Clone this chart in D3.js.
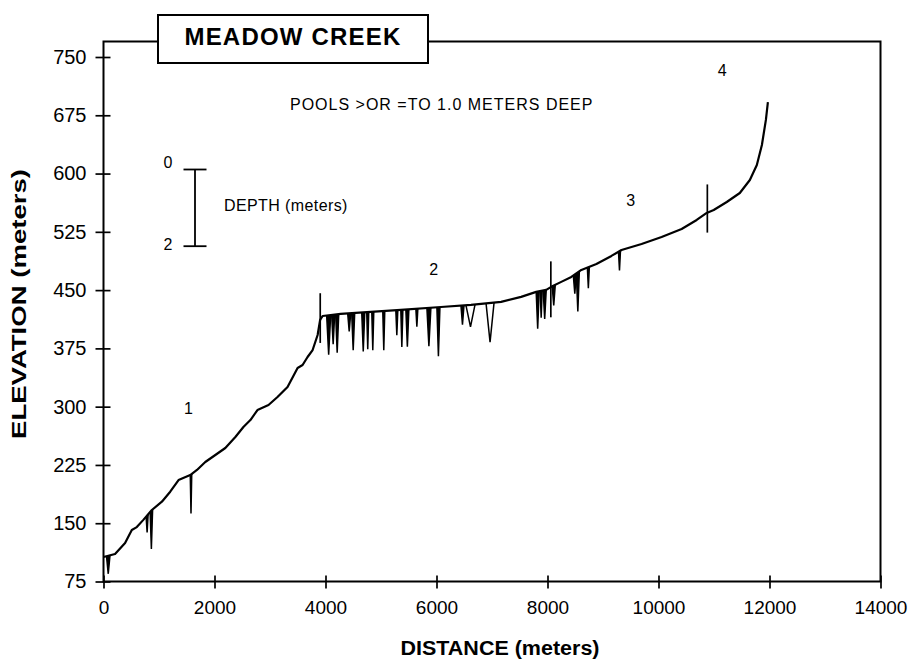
<!DOCTYPE html>
<html>
<head>
<meta charset="utf-8">
<script src="https://cdn.jsdelivr.net/npm/d3@7/dist/d3.min.js"></script>
<style>
  html, body { margin: 0; padding: 0; background: #fff; }
  svg { display: block; font-family: "Liberation Sans", Arial, Helvetica, sans-serif; }
</style>
</head>
<body>
<svg id="chart" width="913" height="665"></svg>
<script>
// Longitudinal profile of Meadow Creek: distance upstream (m) vs bed elevation (m)
const profile = [
  [0, 106.5], [208, 110.4], [389, 124.5], [510, 141.3], [600, 145], [714, 154],
  [871, 167], [1052, 177.7], [1202, 190.6], [1352, 205.6], [1563, 212], [1684, 218.5],
  [1834, 228.8], [2015, 237.8], [2195, 246.8], [2376, 261], [2521, 273.8], [2647, 282.8],
  [2774, 295.7], [2973, 302.1], [3135, 312.4], [3316, 325.3], [3497, 349.8], [3587, 353.6],
  [3677, 363.9], [3768, 372.9], [3858, 392.2], [3903, 411.6], [3948, 416.7],
  [4273, 419.3], [4815, 421.9], [5357, 424.5], [6080, 428.3], [6622, 430.9], [7164, 434.8],
  [7525, 441.3], [7796, 447.7], [7977, 450.3], [8067, 454.2], [8248, 460.6], [8429, 467],
  [8610, 476], [8881, 483.6], [9152, 494], [9333, 501.6], [9695, 509.4], [10056, 518.4],
  [10417, 528.7], [10688, 540.3], [10869, 549.3], [10995, 553.1], [11230, 563.4],
  [11465, 575], [11646, 591.7], [11772, 611], [11863, 636.8], [11935, 669], [11971, 692]
];

// Pools: [start distance, end distance, maximum depth in metres]
const pools = [
  [54, 117, 0.47], [768, 804, 0.44], [840, 885, 1.0], [1563, 1590, 1.02],
  [4021, 4093, 1.03], [4111, 4165, 0.77], [4183, 4238, 1.0], [4400, 4454, 0.47],
  [4472, 4526, 0.97], [4653, 4707, 1.02], [4743, 4779, 0.97], [4834, 4870, 1.0],
  [5032, 5068, 1.02], [5267, 5303, 0.65], [5357, 5394, 0.97], [5448, 5502, 0.97],
  [5628, 5664, 0.47], [5827, 5899, 1.0], [6007, 6062, 1.28], [6441, 6495, 0.5],
  [6531, 6694, 0.57], [6893, 7037, 1.02], [7796, 7850, 0.97], [7868, 7904, 0.7],
  [7922, 7977, 0.75], [8085, 8140, 0.52], [8465, 8519, 0.5], [8519, 8574, 1.02],
  [8718, 8754, 0.55], [9279, 9315, 0.5]
];

// Reach boundaries: [distance, upper elevation, lower elevation]
const reachBreaks = [[3905, 446, 382], [8060, 487, 415], [10880, 586, 524]];

// Reach numbers: [label, distance, elevation]
const reachLabels = [["1", 1530, 290], ["2", 5950, 470], ["3", 9500, 558], ["4", 11150, 726]];

const xTicks = [0, 2000, 4000, 6000, 8000, 10000, 12000, 14000];
const yTicks = [75, 150, 225, 300, 375, 450, 525, 600, 675, 750];
const depthTicks = [0, 2];

const titleText = "MEADOW CREEK";
const noteText = "POOLS >OR =TO 1.0 METERS DEEP";
const depthText = "DEPTH (meters)";
const xTitle = "DISTANCE (meters)";
const yTitle = "ELEVATION (meters)";

const svg = d3.select("#chart");

const left = 103.5, right = 880.5, bottom = 581.5, frameTop = 41.5;
const x = d3.scaleLinear().domain([0, 14000]).range([left, right]);
const y = d3.scaleLinear().domain([75, 750]).range([bottom, 57]);
const depthPx = d3.scaleLinear().domain([0, 2]).range([0, 76.7]);

// elevation of the profile at any distance
const bis = d3.bisector(d => d[0]).left;
function elevAt(d) {
  const i = Math.max(1, Math.min(profile.length - 1, bis(profile, d)));
  const a = profile[i - 1], b = profile[i];
  const t = (d - a[0]) / (b[0] - a[0]);
  return a[1] + t * (b[1] - a[1]);
}

// frame
const titleBox = { x0: 158, x1: 428, y0: 15, y1: 63 };
const frame = svg.append("g").attr("stroke", "#000").attr("stroke-width", 2).attr("fill", "none");
frame.append("path").attr("d",
  `M${titleBox.x0},${frameTop}H${left}V${bottom}H${right}V${frameTop}H${titleBox.x1}`);

// axes
const yAxis = d3.axisLeft(y).tickValues(yTicks).tickSize(8).tickPadding(9).tickFormat(d3.format("d"));
const gy = svg.append("g").attr("transform", `translate(${left},0)`).call(yAxis);
gy.select(".domain").remove();
gy.selectAll(".tick line").attr("x1", 7).attr("stroke", "#000").attr("stroke-width", 1.7);
gy.selectAll(".tick text").attr("font-size", 20).attr("fill", "#000")
  .attr("font-family", "'Liberation Sans', Arial, sans-serif");

const xAxis = d3.axisBottom(x).tickValues(xTicks).tickSize(7).tickPadding(12).tickFormat(d3.format("d"));
const gx = svg.append("g").attr("transform", `translate(0,${bottom})`).call(xAxis);
gx.select(".domain").remove();
gx.selectAll(".tick line").attr("y1", -6).attr("stroke", "#000").attr("stroke-width", 1.7);
gx.selectAll(".tick text").attr("font-size", 19).attr("fill", "#000")
  .attr("font-family", "'Liberation Sans', Arial, sans-serif");

// title box
svg.append("rect")
  .attr("x", titleBox.x0).attr("y", titleBox.y0)
  .attr("width", titleBox.x1 - titleBox.x0).attr("height", titleBox.y1 - titleBox.y0)
  .attr("fill", "#fff").attr("stroke", "#000").attr("stroke-width", 2);
svg.append("text").attr("x", (titleBox.x0 + titleBox.x1) / 2).attr("y", 44.5)
  .attr("text-anchor", "middle").attr("font-size", 24).attr("font-weight", "bold")
  .attr("letter-spacing", 1.2).text(titleText);

// axis titles
svg.append("text").attr("x", 500).attr("y", 655).attr("text-anchor", "middle")
  .attr("font-size", 20).attr("font-weight", "bold")
  .attr("textLength", 199).attr("lengthAdjust", "spacingAndGlyphs").text(xTitle);
svg.append("text").attr("transform", "translate(26,304) rotate(-90)").attr("text-anchor", "middle")
  .attr("font-size", 20).attr("font-weight", "bold")
  .attr("textLength", 270).attr("lengthAdjust", "spacingAndGlyphs").text(yTitle);

// note
svg.append("text").attr("x", 290).attr("y", 110).attr("font-size", 16)
  .attr("letter-spacing", 1).text(noteText);

// depth scale bar
const barX = 195, barTop = 169.5;
const bar = svg.append("g").attr("stroke", "#000").attr("stroke-width", 1.8);
bar.append("line").attr("x1", barX).attr("x2", barX)
  .attr("y1", barTop + depthPx(0)).attr("y2", barTop + depthPx(2));
bar.selectAll("line.cap").data(depthTicks).join("line").attr("class", "cap")
  .attr("x1", barX - 11.5).attr("x2", barX + 11.5)
  .attr("y1", d => barTop + depthPx(d)).attr("y2", d => barTop + depthPx(d));
svg.selectAll("text.dtick").data(depthTicks).join("text").attr("class", "dtick")
  .attr("x", 168).attr("y", d => barTop + depthPx(d) - 1.5 + (d === 0 ? 0 : 5))
  .attr("text-anchor", "middle").attr("font-size", 16).text(d => d);
svg.append("text").attr("x", 224).attr("y", 210.5).attr("font-size", 16)
  .attr("letter-spacing", 0.4).text(depthText);

// reach numbers
svg.selectAll("text.reach").data(reachLabels).join("text").attr("class", "reach")
  .attr("x", d => x(d[1])).attr("y", d => y(d[2]))
  .attr("text-anchor", "middle").attr("font-size", 16).text(d => d[0]);

// pools hanging below the profile, depth on the exaggerated depth scale;
// narrow pools read as solid wedges, wide ones as open V's
svg.append("g").attr("stroke", "#000").attr("stroke-width", 1.5)
  .attr("stroke-linejoin", "miter")
  .selectAll("path").data(pools).join("path")
  .attr("fill", p => (x(p[1]) - x(p[0]) < 6 ? "#000" : "none"))
  .attr("d", p => {
    const mid = (p[0] + p[1]) / 2;
    return `M${x(p[0])},${y(elevAt(p[0]))}L${x(mid)},${y(elevAt(mid)) + depthPx(p[2])}L${x(p[1])},${y(elevAt(p[1]))}`;
  });

// reach breaks
svg.append("g").attr("stroke", "#000").attr("stroke-width", 1.7)
  .selectAll("line").data(reachBreaks).join("line")
  .attr("x1", d => x(d[0])).attr("x2", d => x(d[0]))
  .attr("y1", d => y(d[1])).attr("y2", d => y(d[2]));

// profile
svg.append("path").datum(profile)
  .attr("fill", "none").attr("stroke", "#000").attr("stroke-width", 2.2)
  .attr("stroke-linejoin", "round")
  .attr("d", d3.line().x(d => x(d[0])).y(d => y(d[1])));
</script>
</body>
</html>
